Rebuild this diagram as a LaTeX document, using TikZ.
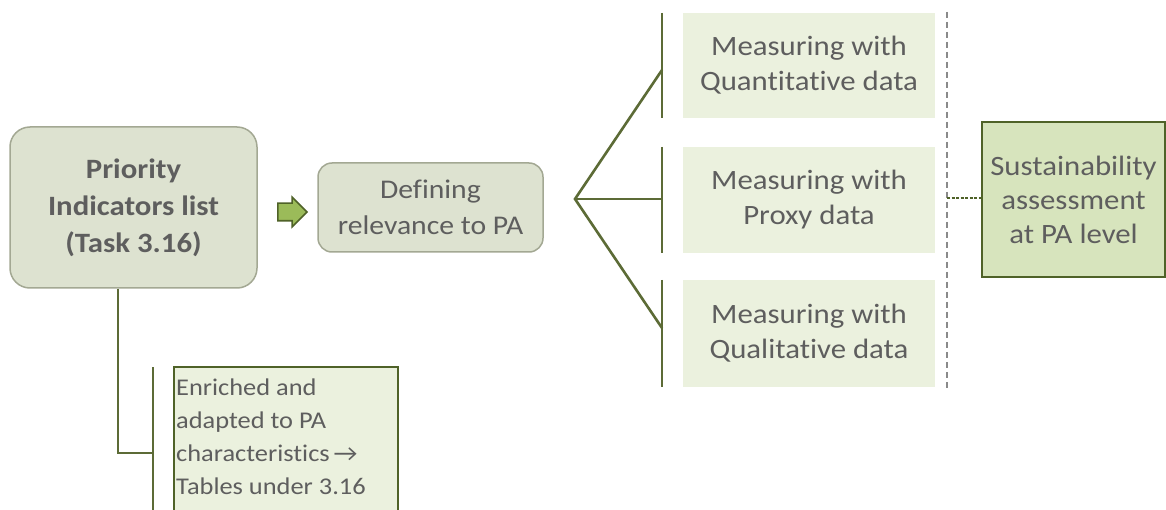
\documentclass[tikz,border=0pt]{standalone}
\usepackage{fontspec}
\setmainfont{Carlito}[FakeStretch=1.1, Ligatures=NoCommon]
\usetikzlibrary{shapes.arrows}
\definecolor{txtgray}{HTML}{5E5E5E}
\definecolor{greyfill}{HTML}{DDE2D0}
\definecolor{greyedge}{HTML}{A3A893}
\definecolor{paleg}{HTML}{EBF1DE}
\definecolor{sustfill}{HTML}{D7E4BD}
\definecolor{olive}{HTML}{4F6228}
\definecolor{lineolive}{HTML}{5C6B36}
\definecolor{arrowg}{HTML}{9BBB59}
\definecolor{dashgray}{HTML}{8A8A8A}
\begin{document}
\begin{tikzpicture}[x=1pt,y=-1pt,
  roundbox/.style={draw=greyedge, line width=1.5pt, fill=greyfill, rounded corners=14pt, align=center, text=txtgray, inner sep=0pt},
  measbox/.style={fill=paleg, draw=none, minimum width=252pt, align=center, text=txtgray, inner sep=0pt,
    font=\fontsize{28}{35}\selectfont},
  bracketline/.style={draw=lineolive, line width=2.6pt},
  dashline/.style={draw=dashgray, line width=1.6pt, dash pattern=on 6pt off 4pt}
]
\useasboundingbox (0,0) rectangle (1166,510);
\fill[white] (0,0) rectangle (1166,510);

% main boxes
\node[roundbox, minimum width=247pt, minimum height=161pt, rounded corners=20pt,
  font=\bfseries\fontsize{28}{37}\selectfont] (prio) at (133.5,207.5)
  {Priority\\Indicators list\\(Task 3.16)};
\node[single arrow, draw=olive, fill=arrowg, line width=1.6pt, minimum width=28pt,
  single arrow head extend=6pt, inner sep=8pt, minimum height=29pt] (arr) at (288,212) {};
\node[roundbox, minimum width=225pt, minimum height=89pt,
  font=\fontsize{27}{36}\selectfont] (defn) at (430.5,207.5)
  {Defining\\relevance to PA};

% measuring boxes
\node[measbox, minimum height=105pt] (m1) at (809,65.5) {Measuring with\\Quantitative data};
\node[measbox, minimum height=106pt] (m2) at (809,200) {Measuring with\\Proxy data};
\node[measbox, minimum height=107pt] (m3) at (809,333.5) {Measuring with\\Qualitative data};

% bracket bars
\coordinate (b1t) at (662,13);  \coordinate (b1b) at (662,118);
\coordinate (b2t) at (662,147); \coordinate (b2b) at (662,253);
\coordinate (b3t) at (662,280); \coordinate (b3b) at (662,387);
\coordinate (fork) at (575,199);
\coordinate (e1) at (662,70);
\coordinate (e2) at (662,199);
\coordinate (e3) at (662,328);
\draw[bracketline] (b1t) -- (b1b);
\draw[bracketline] (b2t) -- (b2b);
\draw[bracketline] (b3t) -- (b3b);
\draw[bracketline, line join=miter] (e1) -- (fork) -- (e3);
\draw[bracketline] (fork) -- (e2);

% dashed separator
\coordinate (dt) at (947,12);
\coordinate (db) at (947,388);
\coordinate (dm) at (947,198);
\draw[dashline] (dt) -- (db);

% sustainability box
\node[draw=olive, line width=2pt, fill=sustfill, minimum width=183pt, minimum height=155pt,
  align=center, text=txtgray, inner sep=0pt, font=\fontsize{28}{34}\selectfont] (sust) at (1073.5,199.5)
  {Sustainability\\assessment\\at PA level};
\draw[draw=olive, line width=1.2pt, dash pattern=on 3pt off 1.5pt] (dm) -- (dm -| sust.west);

% bottom branch
\coordinate (p1) at (118,453);
\coordinate (p2) at (153,453);
\coordinate (bt) at (153,367);
\coordinate (bb) at (153,512);
\draw[bracketline] (prio.south -| p1) -- (p1) -- (p2);
\draw[bracketline] (bt) -- (bb);
\node[draw=olive, line width=2pt, fill=paleg, minimum width=224pt, minimum height=160pt,
  anchor=north west, inner sep=0pt] (enr) at (173,366) {};
\node[anchor=north west, align=left, text=txtgray, inner sep=0pt,
  font=\fontsize{24}{33}\selectfont] (enrtxt) at (176,379)
  {Enriched and\\adapted to PA\\characteristics\,→\\Tables under 3.16};
\end{tikzpicture}
\end{document}
